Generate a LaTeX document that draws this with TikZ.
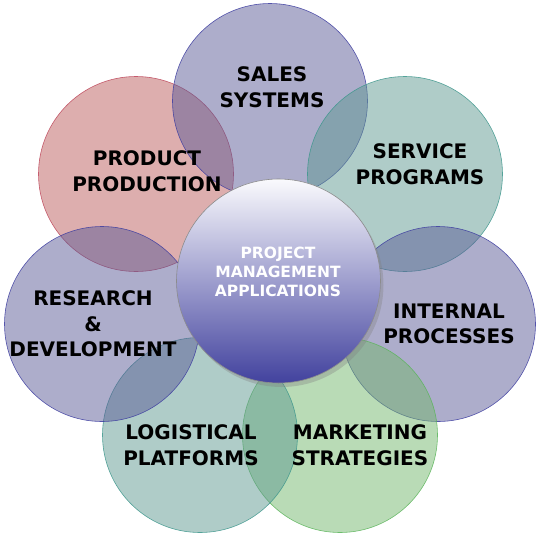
\documentclass[tikz,border=0pt]{standalone}
\usepackage{fontspec}
\setmainfont{DejaVu Sans}
\usetikzlibrary{shadows}
\definecolor{bluefill}{RGB}{91,91,151}
\definecolor{blueline}{RGB}{60,60,160}
\definecolor{redfill}{RGB}{187,93,93}
\definecolor{redline}{RGB}{190,70,90}
\definecolor{tealfill}{RGB}{95,153,145}
\definecolor{tealline}{RGB}{60,150,140}
\definecolor{greenfill}{RGB}{115,183,109}
\definecolor{greenline}{RGB}{90,180,90}
\definecolor{hubtop}{RGB}{250,250,253}
\definecolor{hubmid}{RGB}{168,168,214}
\definecolor{hubbot}{RGB}{66,66,158}

\begin{document}
\begin{tikzpicture}[x=1pt, y=-1pt,
    petal/.style 2 args={circle, draw=#2, fill=#1, fill opacity=0.5, draw opacity=0.85, line width=0.6pt, minimum size=195pt, inner sep=0pt},
    petaltext/.style={align=center, font=\bfseries\fontsize{20}{25.5}\selectfont, text=black},
    hub/.style={circle, draw=black!45, line width=0.6pt, minimum size=204pt, inner sep=0pt,
        top color=hubtop, middle color=hubmid, bottom color=hubbot,
        drop shadow={shadow xshift=3pt, shadow yshift=-4pt, opacity=0.35}},
]
\useasboundingbox (0,0) rectangle (538,536);

% outer circles, each drawn over the one before it
\node[petal={redfill}{redline}] (product) at (136,174) {};
\node[petal={bluefill}{blueline}] (sales) at (270,101) {};
\node[petal={tealfill}{tealline}] (service) at (405,174) {};
\node[petal={bluefill}{blueline}] (internal) at (438,324) {};
\node[petal={greenfill}{greenline}] (marketing) at (340,435) {};
\node[petal={tealfill}{tealline}] (logistical) at (200,435) {};
\node[petal={bluefill}{blueline}] (research) at (102,324) {};

% centre
\node[hub] (pm) at (278.5,281) {};

\node[petaltext] (salestext) at (272,87) {SALES\\SYSTEMS};
\node[petaltext] (producttext) at (147,171) {PRODUCT\\PRODUCTION};
\node[petaltext] (servicetext) at (420,164) {SERVICE\\PROGRAMS};
\node[petaltext] (researchtext) at (93,324) {RESEARCH\\\&\\DEVELOPMENT};
\node[petaltext] (internaltext) at (449,324) {INTERNAL\\PROCESSES};
\node[petaltext] (logisticaltext) at (191,445) {LOGISTICAL\\PLATFORMS};
\node[petaltext] (marketingtext) at (360,445) {MARKETING\\STRATEGIES};
\node[align=center, text=white, font=\bfseries\fontsize{15.5}{19}\selectfont] (pmtext) at (278,272) {PROJECT\\MANAGEMENT\\APPLICATIONS};

\end{tikzpicture}
\end{document}
